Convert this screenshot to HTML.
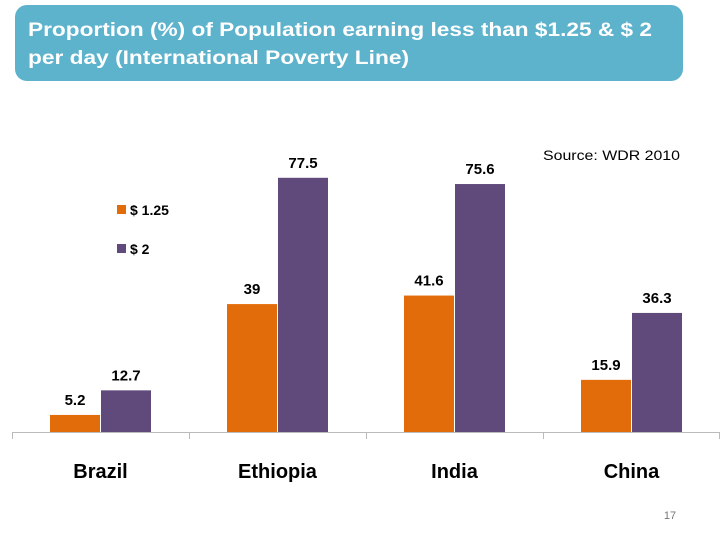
<!DOCTYPE html>
<html><head><meta charset="utf-8"><style>
html,body{margin:0;padding:0;background:#fff;width:720px;height:540px;overflow:hidden}
svg text{font-family:"Liberation Sans",sans-serif}
</style></head><body>
<svg id="c" width="720" height="540" xmlns="http://www.w3.org/2000/svg">
<rect x="15" y="5" width="668" height="76" rx="12" fill="#5DB2CC"/>
<text x="28" y="36" fill="#fff" font-size="19" font-weight="bold" textLength="624" lengthAdjust="spacingAndGlyphs">Proportion (%) of Population earning less than $1.25 &amp; $ 2</text>
<text x="28" y="64" fill="#fff" font-size="19" font-weight="bold" textLength="381" lengthAdjust="spacingAndGlyphs">per day (International Poverty Line)</text>
<text x="543" y="160" fill="#000" font-size="14" textLength="137" lengthAdjust="spacingAndGlyphs">Source: WDR 2010</text>
<g>
<rect x="117" y="205" width="9" height="9" fill="#E36C0A"/>
<text x="130" y="215" font-size="14" font-weight="bold">$ 1.25</text>
<rect x="117" y="244" width="9" height="9" fill="#604A7B"/>
<text x="130" y="254" font-size="14" font-weight="bold">$ 2</text>
</g>
<g id="bars"></g>
<line x1="12" y1="432.5" x2="720" y2="432.5" stroke="#bbb" stroke-width="1"/>
<text x="670" y="519" font-size="11" fill="#777" text-anchor="middle">17</text>
</svg>
<script>
const categories=["Brazil","Ethiopia","India","China"];
const series125=[5.2,39,41.6,15.9];
const series2=[12.7,77.5,75.6,36.3];
const ns="http://www.w3.org/2000/svg";
const g=document.getElementById('bars');
const svg=document.getElementById('c');
const x0=12,cw=177,base=432,scale=3.28,bw=50,off=38;
function y(v){return base-v*scale;}
function mk(t,a){const e=document.createElementNS(ns,t);for(const k in a)e.setAttribute(k,a[k]);return e;}
categories.forEach((c,i)=>{
  const cx=x0+i*cw;
  const t=mk('line',{x1:cx+0.5,y1:432,x2:cx+0.5,y2:439,stroke:'#bbb'});
  
  
  svg.appendChild(t);
  [[series125,'#E36C0A',0,'125'],[series2,'#604A7B',1,'2']].forEach(([s,col,k,nm])=>{
    const v=s[i],bx=cx+off+k*(bw+1);
    const r=mk('rect',{x:bx,y:y(v),width:bw,height:v*scale,fill:col});
    
    
    g.appendChild(r);
    const l=mk('text',{x:bx+bw/2,y:y(v)-10,'text-anchor':'middle','font-size':15,'font-weight':'bold'});
    l.textContent=String(v);
    
    
    g.appendChild(l);
  });
  const cl=mk('text',{x:cx+off+bw+0.5,y:478,'text-anchor':'middle','font-size':20,'font-weight':'bold'});
  cl.textContent=c;
  
  
  g.appendChild(cl);
});
const te=mk('line',{x1:719.5,y1:432,x2:719.5,y2:439,stroke:'#bbb'});


svg.appendChild(te);
</script>
</body></html>
